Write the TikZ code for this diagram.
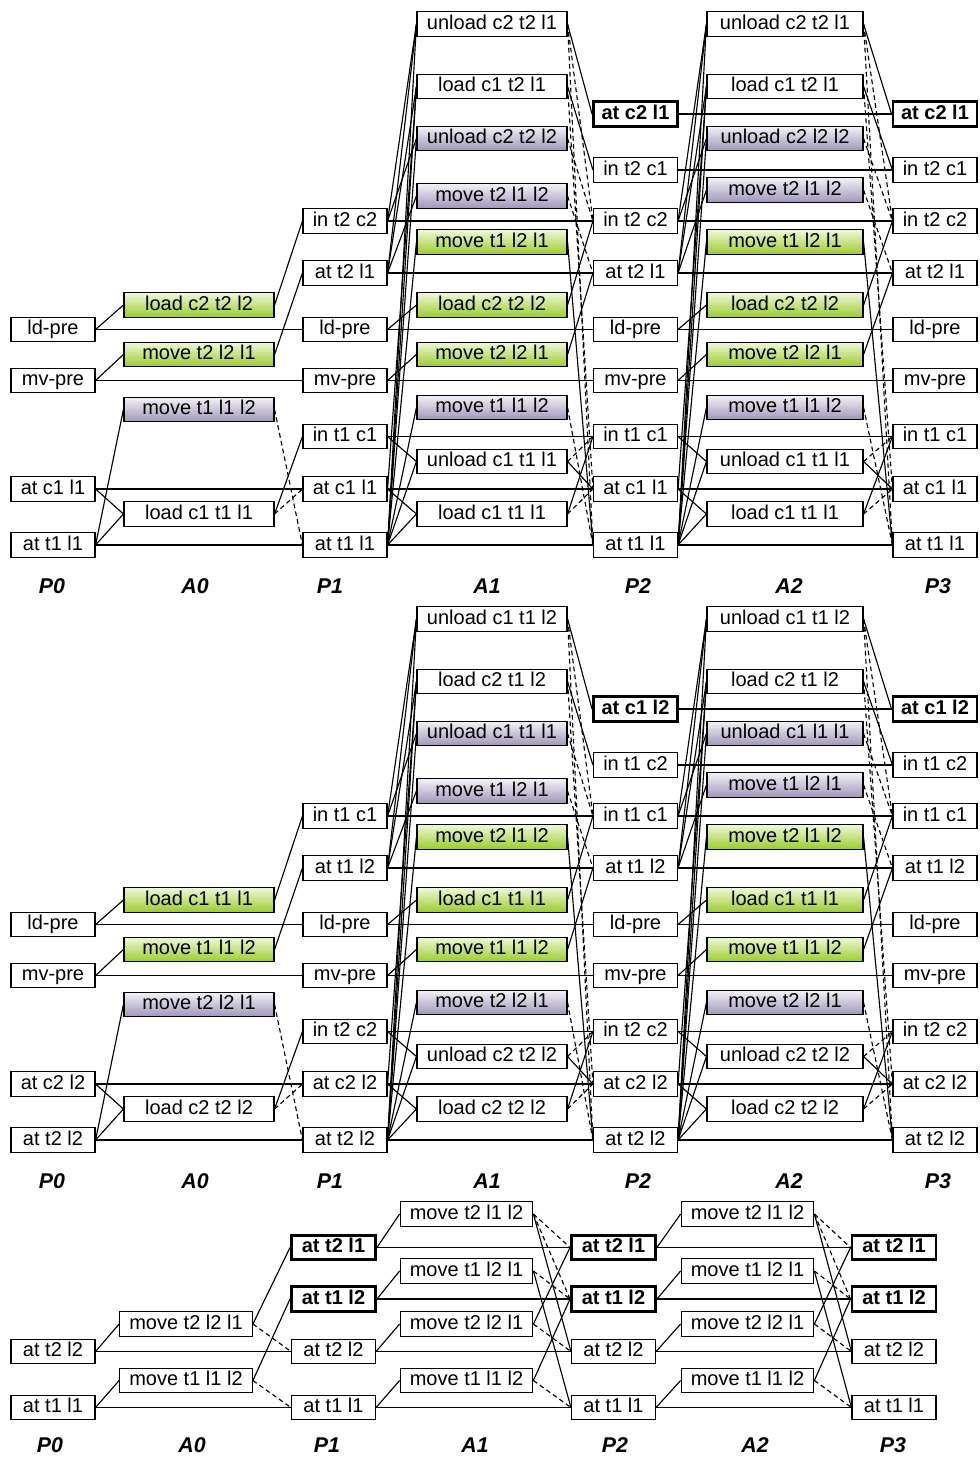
\documentclass[tikz,border=0pt]{standalone}
\usepackage{fontspec}
\setmainfont{Liberation Sans}
\usepackage{tikz}

\definecolor{limetop}{HTML}{EEF8D8}
\definecolor{limebot}{HTML}{9CCB2E}
\definecolor{lilactop}{HTML}{F3F1F7}
\definecolor{lilacbot}{HTML}{A096BA}

\newcommand{\boxfont}{\fontsize{15pt}{18pt}\selectfont}

\tikzset{
  box/.style={draw, fill=white, line width=0.85pt, font=\boxfont,
    inner xsep=2pt, inner ysep=2pt, text height=11pt, text depth=3.3pt},
  prop/.style={box, minimum width=63pt},
  goal/.style={prop, line width=2.2pt, font=\boxfont\bfseries},
  act/.style={box, minimum width=112.5pt},
  actg/.style={act, top color=limetop, bottom color=limebot},
  actp/.style={act, top color=lilactop, bottom color=lilacbot},
  del/.style={dashed, dash pattern=on 3.5pt off 2.5pt},
  lvl/.style={font=\fontsize{16pt}{18pt}\selectfont\bfseries\itshape},
}

% links shared by the two upper graphs
\newcommand{\planlinks}{%
  \foreach \i/\j in {5/6, 6/7, 9/8, 8/10, 9/10}
    \draw (P0-\i.east) -- (A0-\j.west);
  \foreach \j/\i in {6/3, 7/4, 10/7}
    \draw (A0-\j.east) -- (P1-\i.west);
  \foreach \j/\i in {8/9, 10/8}
    \draw[del] (A0-\j.east) -- (P1-\i.west);
  \foreach \i in {5,6,8,9}
    \draw (P0-\i) -- (P1-\i);
  \foreach \ps/\as/\pt in {P1/A1/P2, P2/A2/P3} {
    \foreach \i/\j in {3/1, 4/1, 9/1, 4/2, 8/2, 9/2, 3/3, 9/3, 4/4, 9/5,
                       5/6, 6/7, 9/8, 7/9, 9/9, 8/10, 9/10}
      \draw (\ps-\i.east) -- (\as-\j.west);
    \foreach \j/\i in {1/1, 2/2, 5/9, 6/3, 7/4, 9/8, 10/7}
      \draw (\as-\j.east) -- (\pt-\i.west);
    \foreach \j/\i in {1/3, 1/9, 2/8, 3/3, 4/4, 8/9, 9/7, 10/8}
      \draw[del] (\as-\j.east) -- (\pt-\i.west);
  }
  \foreach \i in {3,...,9}
    \draw (P1-\i) -- (P2-\i);
  \foreach \i in {1,...,9}
    \draw (P2-\i) -- (P3-\i);
}

\newcommand{\levelrow}{%
  \foreach \t/\x in {P0/52, A0/195, P1/330, A1/487, P2/638, A2/789, P3/938}
    \node[lvl] (L-\t) at (\x,586) {\t};
}

\begin{document}
\begin{tikzpicture}[x=0.75pt, y=-0.75pt, line width=0.85pt]
\useasboundingbox (0,0) rectangle (980,1457);

% graph for at c2 l1
\begin{scope}[name prefix=a-]
  \node[prop] (P0-5) at (53,329.5) {ld-pre};
  \node[prop] (P0-6) at (53,380.5) {mv-pre};
  \node[prop] (P0-8) at (53,489) {at c1 l1};
  \node[prop] (P0-9) at (53,545) {at t1 l1};
  \node[actg] (A0-6) at (199,305) {load c2 t2 l2};
  \node[actg] (A0-7) at (199,354.5) {move t2 l2 l1};
  \node[actp] (A0-8) at (199,409.5) {move t1 l1 l2};
  \node[act] (A0-10) at (199,514) {load c1 t1 l1};
  \foreach \c/\x in {P1/345, P2/635.5, P3/935} {
    \node[prop] (\c-3) at (\x,221) {in t2 c2};
    \node[prop] (\c-4) at (\x,273) {at t2 l1};
    \node[prop] (\c-5) at (\x,329.5) {ld-pre};
    \node[prop] (\c-6) at (\x,380.5) {mv-pre};
    \node[prop] (\c-7) at (\x,436.5) {in t1 c1};
    \node[prop] (\c-8) at (\x,489) {at c1 l1};
    \node[prop] (\c-9) at (\x,545) {at t1 l1};
  }
  \foreach \c/\x in {P2/635.5, P3/935} {
    \node[goal] (\c-1) at (\x,114) {at c2 l1};
    \node[prop] (\c-2) at (\x,170) {in t2 c1};
  }
  \foreach \c/\x/\w/\y/\u in {A1/492/112.5pt/196/unload c2 t2 l2, A2/785/117pt/190/unload c2 l2 l2} {
    \tikzset{act/.append style={minimum width=\w}}
    \node[act] (\c-1) at (\x,24) {unload c2 t2 l1};
    \node[act] (\c-2) at (\x,86.5) {load c1 t2 l1};
    \node[actp] (\c-3) at (\x,138.5) {\u};
    \node[actp] (\c-4) at (\x,\y) {move t2 l1 l2};
    \node[actg] (\c-5) at (\x,242) {move t1 l2 l1};
    \node[actg] (\c-6) at (\x,305) {load c2 t2 l2};
    \node[actg] (\c-7) at (\x,354.5) {move t2 l2 l1};
    \node[actp] (\c-8) at (\x,407.5) {move t1 l1 l2};
    \node[act] (\c-9) at (\x,461.5) {unload c1 t1 l1};
    \node[act] (\c-10) at (\x,514) {load c1 t1 l1};
  }
  \planlinks
  \levelrow
\end{scope}

% graph for at c1 l2
\begin{scope}[name prefix=b-, shift={(0,595)}]
  \node[prop] (P0-5) at (53,329.5) {ld-pre};
  \node[prop] (P0-6) at (53,380.5) {mv-pre};
  \node[prop] (P0-8) at (53,489) {at c2 l2};
  \node[prop] (P0-9) at (53,545) {at t2 l2};
  \node[actg] (A0-6) at (199,305) {load c1 t1 l1};
  \node[actg] (A0-7) at (199,354.5) {move t1 l1 l2};
  \node[actp] (A0-8) at (199,409.5) {move t2 l2 l1};
  \node[act] (A0-10) at (199,514) {load c2 t2 l2};
  \foreach \c/\x in {P1/345, P2/635.5, P3/935} {
    \node[prop] (\c-3) at (\x,221) {in t1 c1};
    \node[prop] (\c-4) at (\x,273) {at t1 l2};
    \node[prop] (\c-5) at (\x,329.5) {ld-pre};
    \node[prop] (\c-6) at (\x,380.5) {mv-pre};
    \node[prop] (\c-7) at (\x,436.5) {in t2 c2};
    \node[prop] (\c-8) at (\x,489) {at c2 l2};
    \node[prop] (\c-9) at (\x,545) {at t2 l2};
  }
  \foreach \c/\x in {P2/635.5, P3/935} {
    \node[goal] (\c-1) at (\x,114) {at c1 l2};
    \node[prop] (\c-2) at (\x,170) {in t1 c2};
  }
  \foreach \c/\x/\w/\y/\u in {A1/492/112.5pt/196/unload c1 t1 l1, A2/785/117pt/190/unload c1 l1 l1} {
    \tikzset{act/.append style={minimum width=\w}}
    \node[act] (\c-1) at (\x,24) {unload c1 t1 l2};
    \node[act] (\c-2) at (\x,86.5) {load c2 t1 l2};
    \node[actp] (\c-3) at (\x,138.5) {\u};
    \node[actp] (\c-4) at (\x,\y) {move t1 l2 l1};
    \node[actg] (\c-5) at (\x,242) {move t2 l1 l2};
    \node[actg] (\c-6) at (\x,305) {load c1 t1 l1};
    \node[actg] (\c-7) at (\x,354.5) {move t1 l1 l2};
    \node[actp] (\c-8) at (\x,407.5) {move t2 l2 l1};
    \node[act] (\c-9) at (\x,461.5) {unload c2 t2 l2};
    \node[act] (\c-10) at (\x,514) {load c2 t2 l2};
  }
  \planlinks
  \levelrow
\end{scope}

% graph for the trucks
\begin{scope}[name prefix=c-]
  \tikzset{act/.append style={minimum width=99.5pt}}
  \node[prop] (P0-3) at (53,1351.5) {at t2 l2};
  \node[prop] (P0-4) at (53,1407.5) {at t1 l1};
  \node[act] (A0-3) at (186,1324) {move t2 l2 l1};
  \node[act] (A0-4) at (186,1380.5) {move t1 l1 l2};
  \foreach \c/\x in {P1/333.5, P2/613.5, P3/894} {
    \node[goal] (\c-1) at (\x,1247.5) {at t2 l1};
    \node[goal] (\c-2) at (\x,1299) {at t1 l2};
    \node[prop] (\c-3) at (\x,1351.5) {at t2 l2};
    \node[prop] (\c-4) at (\x,1407.5) {at t1 l1};
  }
  \foreach \c/\x in {A1/466.5, A2/747.5} {
    \node[act] (\c-1) at (\x,1214) {move t2 l1 l2};
    \node[act] (\c-2) at (\x,1271) {move t1 l2 l1};
    \node[act] (\c-3) at (\x,1324) {move t2 l2 l1};
    \node[act] (\c-4) at (\x,1380.5) {move t1 l1 l2};
  }
  \foreach \i in {3,4} {
    \draw (P0-\i.east) -- (A0-\i.west);
    \draw (P0-\i) -- (P1-\i);
    \draw[del] (A0-\i.east) -- (P1-\i.west);
  }
  \draw (A0-3.east) -- (P1-1.west);
  \draw (A0-4.east) -- (P1-2.west);
  \foreach \ps/\as/\pt in {P1/A1/P2, P2/A2/P3} {
    \foreach \i in {1,...,4} {
      \draw (\ps-\i.east) -- (\as-\i.west);
      \draw (\ps-\i) -- (\pt-\i);
      \draw[del] (\as-\i.east) -- (\pt-\i.west);
    }
    \foreach \j/\i in {1/3, 2/4, 3/1, 4/2}
      \draw (\as-\j.east) -- (\pt-\i.west);
    \draw[del] (\as-1.east) -- (\pt-2.west);
  }
  \foreach \t/\x in {P0/50, A0/192, P1/327, A1/475, P2/615, A2/755, P3/893}
    \node[lvl] (L-\t) at (\x,1445) {\t};
\end{scope}
\end{tikzpicture}
\end{document}
